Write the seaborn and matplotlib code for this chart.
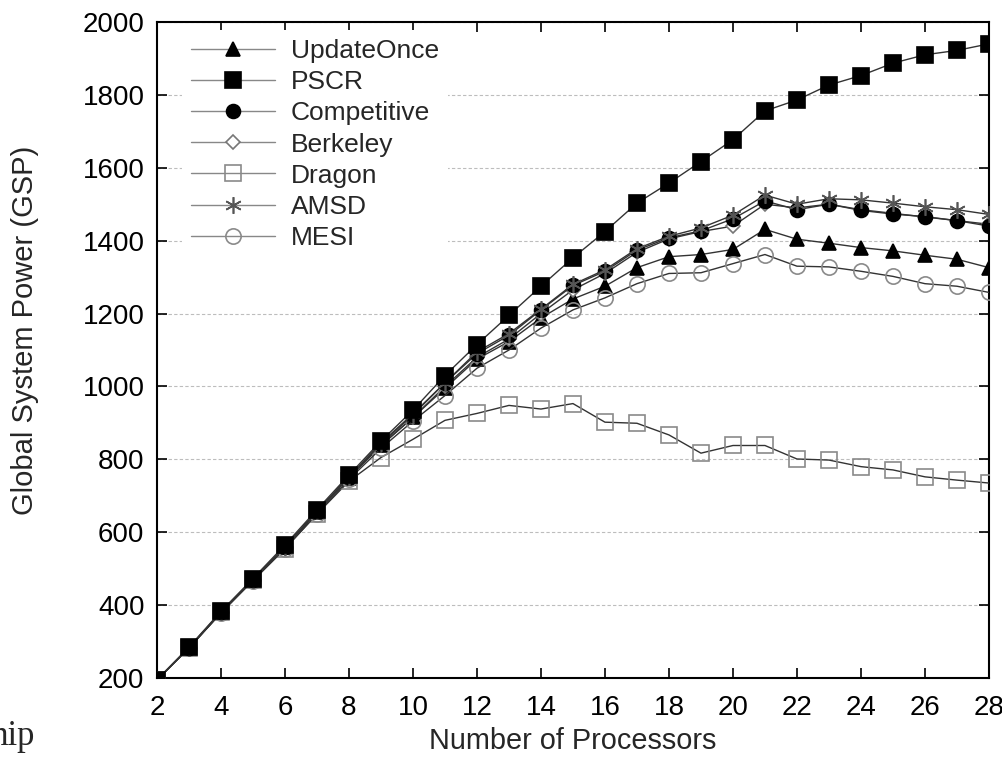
import numpy as np
import pandas as pd
import matplotlib
matplotlib.use("Agg")
import matplotlib.pyplot as plt
import seaborn as sns

# --- data ---
processors = list(range(2, 29))

update_once = [195, 283, 380, 470, 560, 655, 750, 838, 915, 995, 1075, 1123, 1188, 1240,
               1275, 1326, 1356, 1362, 1376, 1431, 1404, 1393, 1381, 1372, 1360, 1349, 1326]
pscr = [195, 285, 383, 473, 565, 662, 757, 850, 935, 1030, 1115, 1195, 1275, 1353,
        1425, 1503, 1558, 1617, 1677, 1756, 1786, 1827, 1853, 1887, 1910, 1922, 1940]
competitive = [195, 283, 380, 470, 560, 657, 752, 842, 922, 1010, 1090, 1140, 1210, 1277,
               1316, 1374, 1408, 1427, 1460, 1509, 1485, 1500, 1483, 1473, 1466, 1455, 1440]
berkeley = [195, 283, 380, 470, 558, 655, 750, 838, 915, 1000, 1080, 1130, 1200, 1265,
            1310, 1368, 1405, 1425, 1440, 1500, 1490, 1500, 1485, 1475, 1465, 1455, 1445]
dragon = [195, 283, 380, 468, 555, 650, 740, 805, 855, 907, 926, 948, 938, 953,
          902, 899, 867, 817, 838, 838, 801, 798, 780, 771, 752, 743, 735]
amsd = [195, 283, 380, 470, 560, 657, 752, 845, 925, 1010, 1095, 1145, 1212, 1280,
        1320, 1378, 1412, 1435, 1470, 1525, 1500, 1515, 1512, 1503, 1493, 1485, 1472]
mesi = [195, 282, 378, 467, 555, 650, 745, 830, 905, 975, 1050, 1100, 1160, 1210,
        1243, 1282, 1310, 1312, 1337, 1362, 1330, 1328, 1316, 1302, 1282, 1275, 1258]

series_names = ["UpdateOnce", "PSCR", "Competitive", "Berkeley", "Dragon", "AMSD", "MESI"]
series_values = [update_once, pscr, competitive, berkeley, dragon, amsd, mesi]

# marker, size, face colour, edge colour, zorder
styles = {
    "UpdateOnce": ("^", 10, "black", "black", 3),
    "PSCR": ("s", 11, "black", "black", 6),
    "Competitive": ("o", 10, "black", "black", 4),
    "Berkeley": ("D", 7, "white", "#777777", 3),
    "Dragon": ("s", 11, "none", "#8a8a8a", 3),
    "AMSD": ((6, 2, 0), 12, "#555555", "#555555", 5),
    "MESI": ("o", 11, "none", "#8a8a8a", 3),
}

df = pd.DataFrame({"Processors": processors})
for name, vals in zip(series_names, series_values):
    df[name] = vals

sns.set_style("ticks")
plt.rcParams["font.family"] = ["Liberation Sans", "DejaVu Sans"]

fig = plt.figure(figsize=(10.03, 7.58), dpi=100)
ax = fig.add_axes([0.1565, 0.1055, 0.8295, 0.8655])

for name in series_names:
    m, ms, fc, ec, z = styles[name]
    sns.lineplot(data=df, x="Processors", y=name, ax=ax, label=name,
                 color="#333333", linewidth=1.0, marker=m, markersize=ms,
                 markerfacecolor=fc, markeredgecolor=ec, markeredgewidth=1.2,
                 zorder=z)

ax.set_xlim(2, 28)
ax.set_ylim(200, 2000)
ax.set_xticks(range(2, 29, 2))
ax.set_yticks(range(200, 2001, 200))
ax.yaxis.grid(True, linestyle=(0, (3, 2)), color="#bdbdbd", linewidth=0.8)
ax.set_axisbelow(True)
ax.tick_params(direction="in", length=7, width=1.2, top=True, right=True,
               labelsize=20, pad=9, colors="black")
ax.tick_params(axis="x", pad=12)
for sp in ax.spines.values():
    sp.set_linewidth(1.5)
    sp.set_color("black")

ax.set_xlabel("Number of Processors", fontsize=20.8)
ax.set_ylabel("Global System Power (GSP)", fontsize=21)
ax.xaxis.set_label_coords(0.5, -0.074)
ax.yaxis.set_label_coords(-0.142, 0.53)

leg = ax.legend(loc="upper left", bbox_to_anchor=(0.02, 1.0), fontsize=19,
                frameon=True, fancybox=False, framealpha=1.0, facecolor="white",
                edgecolor="none", handlelength=3.2, handletextpad=0.6,
                labelspacing=0.27, borderpad=0.35, borderaxespad=0.3)
for line in leg.get_lines():
    line.set_color("#888888")
leg.set_zorder(10)

fig.text(-0.009, 0.017, "hip", fontsize=25, family=["Liberation Serif", "DejaVu Serif"],
         va="baseline", ha="left")

fig.savefig("out.png", dpi=100)
